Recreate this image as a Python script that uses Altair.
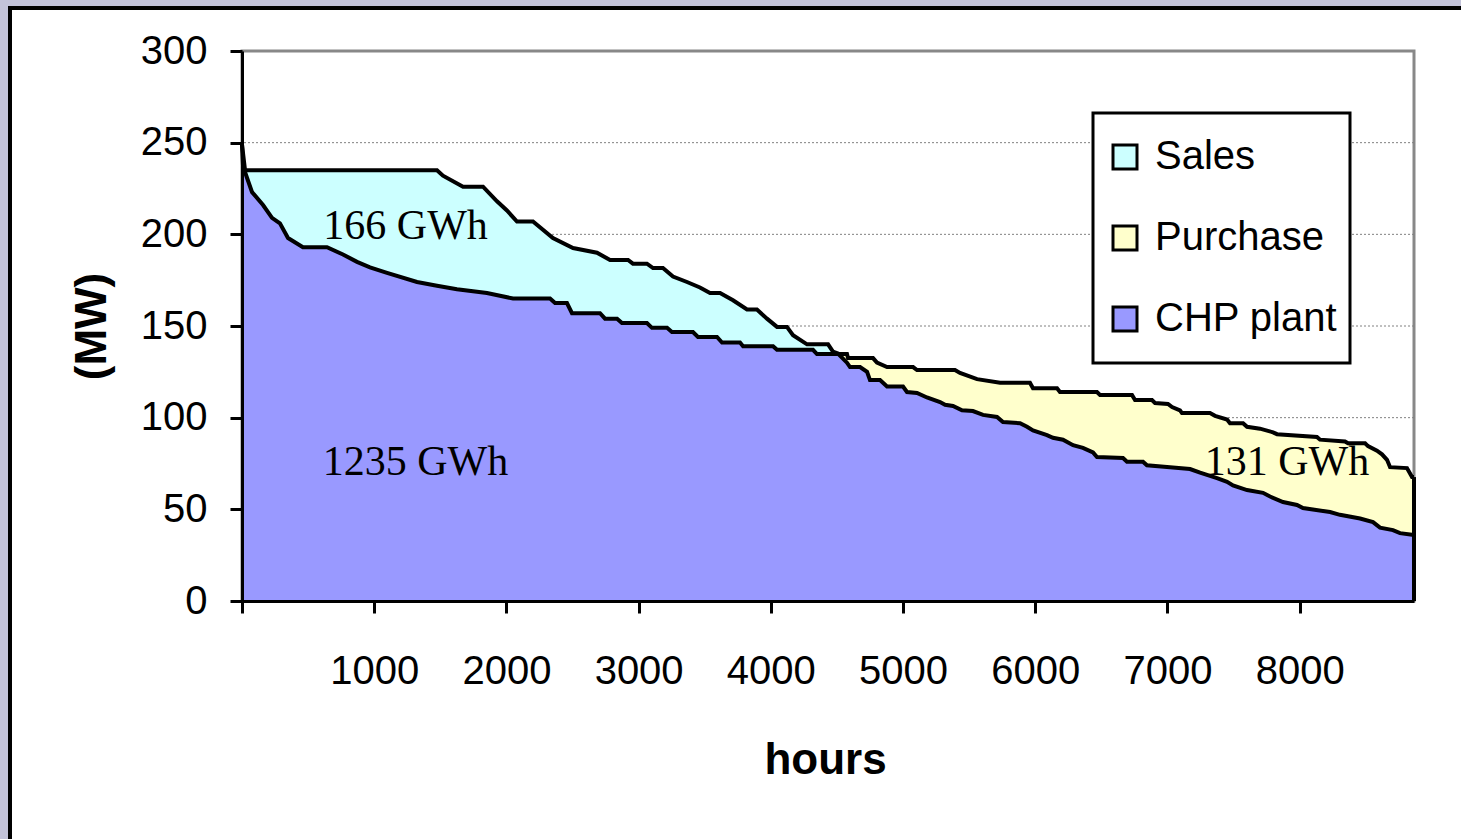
import altair as alt
import pandas as pd

# ---- data ----
chp_hours = [0, 23, 1475, 1520, 1672, 1823, 1929, 2004, 2080, 2201,
             2352, 2504, 2685, 2784, 2920, 2957, 3063, 3109, 3184, 3260,
             3366, 3464, 3540, 3616, 3714, 3820, 3895, 3971, 4047, 4122,
             4168, 4274, 4433, 4470, 4508, 4576, 4599, 4675, 4728, 4750,
             4826, 4879, 5000, 5030, 5106, 5181, 5280, 5318, 5378, 5446,
             5529, 5605, 5711, 5756, 5885, 5938, 5983, 6089, 6134, 6210,
             6286, 6361, 6437, 6467, 6664, 6694, 6815, 6845, 7019, 7171,
             7247, 7375, 7451, 7496, 7602, 7723, 7776, 7874, 7980, 8025,
             8230, 8305, 8457, 8555, 8608, 8706, 8759, 8865]
chp_mw = [249, 235, 235, 232, 226, 226, 218, 213, 207, 207,
          198, 192.5, 190, 186, 186, 184, 184, 181.6, 181.6, 177,
          174, 171, 168, 168, 164, 159, 159, 154, 149.5, 149.5,
          145, 140, 140, 136, 135, 130, 127.6, 127.6, 125, 120.5,
          120.5, 117, 117, 114, 113.5, 111, 108.5, 107, 106.4, 104,
          103.6, 101.5, 100.4, 97.6, 97, 95, 93, 90.5, 89, 88,
          85, 83.5, 81, 78.5, 78, 76, 76, 74, 73, 72,
          70, 67, 65, 63, 60.5, 59, 57, 54, 52.4, 50.7,
          48.5, 47, 45, 43, 40, 38.7, 37, 36]

demand_hours = [0, 8, 76, 159, 227, 287, 348, 461, 643, 764,
                870, 968, 1097, 1324, 1475, 1626, 1853, 2050, 2330, 2368,
                2458, 2496, 2708, 2746, 2837, 2874, 3063, 3101, 3215, 3252,
                3411, 3449, 3593, 3631, 3767, 3790, 4017, 4047, 4319, 4349,
                4576, 4584, 4773, 4803, 4879, 5076, 5106, 5393, 5431, 5560,
                5734, 5960, 5983, 6165, 6187, 6467, 6490, 6732, 6755, 6883,
                6906, 7004, 7035, 7095, 7110, 7322, 7360, 7451, 7473, 7572,
                7602, 7700, 7799, 7829, 8131, 8154, 8343, 8366, 8495, 8517,
                8585, 8623, 8661, 8684, 8812, 8850, 8865]
demand_mw = [249, 237, 223, 216, 209, 206, 198, 193, 193, 189,
             185, 182, 179, 174, 172, 170, 168, 165, 165, 162.5,
             162.5, 157, 157, 154, 154, 151.6, 151.6, 149, 149, 146.7,
             146.7, 144, 144, 141, 141, 139, 139, 137, 137, 134.7,
             134.7, 132.5, 132.5, 130, 127.6, 127.6, 126, 126, 124.4, 121,
             119, 119, 116, 116, 114, 114, 112.4, 112.4, 109.6, 109.6,
             108, 107.5, 105.8, 104, 102.5, 102.5, 101, 99, 97, 97,
             95, 94, 92, 91, 89.5, 88, 87, 86, 86, 84.5,
             82, 80, 77, 73, 72.5, 67.6, 67.6]

crossing_hour = 4508

series_names = ["Sales", "Purchase", "CHP plant"]
series_colors = ["#CCFFFF", "#FFFFCC", "#9999FF"]

x_ticks = [0, 1000, 2000, 3000, 4000, 5000, 6000, 7000, 8000]
y_ticks = [0, 50, 100, 150, 200, 250, 300]
grid_values = [50, 100, 150, 200, 250]

label_texts = ["166 GWh", "1235 GWh", "131 GWh"]
label_hours = [1237, 1312, 7904]
label_mw = [204.5, 75.8, 75.8]

X_MAX = 8865
FONT = "Liberation Sans"

# ---- tables ----
chp = pd.DataFrame({"hour": chp_hours, "mw": chp_mw})
dem = pd.DataFrame({"hour": demand_hours, "mw": demand_mw})
sales_df = chp.assign(series="Sales")
purchase_df = dem.assign(series="Purchase")
base_df = pd.concat([dem[dem.hour < crossing_hour],
                     chp[chp.hour >= crossing_hour]]).assign(series="CHP plant")
grid_df = pd.DataFrame({"g": grid_values})
label_df = pd.DataFrame({"t": label_texts, "hour": label_hours, "mw": label_mw})
end_df = pd.DataFrame({"hour": [demand_hours[-1]], "lo": [0], "hi": [demand_mw[-1]]})
one = pd.DataFrame({"a": [0]})

xaxis = alt.Axis(values=x_ticks, labelExpr="datum.value == 0 ? '' : datum.label",
                 format="d", grid=False, domainColor="black", domainWidth=3,
                 tickColor="black", tickWidth=3, tickSize=12,
                 labelFont=FONT, labelFontSize=40, labelColor="black",
                 labelPadding=38, labelFlush=False, labelOverlap=False,
                 title="hours", titleFont=FONT, titleFontSize=44,
                 titleFontWeight="bold", titleColor="black",
                 titleX=583, titleY=159, titleBaseline="middle", titleAlign="center",
                 zindex=1)
yaxis = alt.Axis(values=y_ticks, grid=False, domainColor="black", domainWidth=3,
                 tickColor="black", tickWidth=3, tickSize=12,
                 labelFont=FONT, labelFontSize=40, labelColor="black",
                 labelPadding=23, labelFlush=False, labelOverlap=False,
                 title="(MW)", titleFont=FONT, titleFontSize=44,
                 titleFontWeight="bold", titleColor="black",
                 titleX=-150, titleY=275, titleBaseline="middle", titleAlign="center",
                 titleAngle=270, zindex=1)

xs = alt.Scale(domain=[0, X_MAX], nice=False, zero=False)
ys = alt.Scale(domain=[0, 300], nice=False)

legend = alt.Legend(title=None, orient="none", legendX=851, legendY=62,
                    symbolType="square", symbolSize=576, symbolStrokeColor="black",
                    symbolStrokeWidth=3, symbolOpacity=1,
                    labelFont=FONT, labelFontSize=40, labelColor="black",
                    labelOffset=10, labelLimit=400, rowPadding=17, padding=12,
                    clipHeight=64,
                    strokeColor="black", fillColor="white")
color = alt.Color("series:N", scale=alt.Scale(domain=series_names, range=series_colors),
                  legend=legend)

# frame decoration (outside the plot area)
top_strip = alt.Chart(one).mark_rect(fill="#C3C3D9").encode(
    x=alt.value(-242), x2=alt.value(1219), y=alt.value(-51), y2=alt.value(-45))
left_strip = alt.Chart(one).mark_rect(fill="#C3C3D9").encode(
    x=alt.value(-242), x2=alt.value(-234), y=alt.value(-51), y2=alt.value(788))
border = alt.Chart(one).mark_rect(fillOpacity=0, stroke="black", strokeWidth=4).encode(
    x=alt.value(-232), x2=alt.value(1240), y=alt.value(-43), y2=alt.value(810))

grid = alt.Chart(grid_df).mark_rule(color="#808080", strokeWidth=1, strokeDash=[2, 2]).encode(
    y=alt.Y("g:Q", scale=ys, axis=yaxis))

def area(df):
    return alt.Chart(df).mark_area(interpolate="linear").encode(
        x=alt.X("hour:Q", scale=xs, axis=xaxis),
        y=alt.Y("mw:Q", scale=ys, axis=yaxis, stack=None),
        color=color)

purchase_area = area(purchase_df)
sales_area = area(sales_df)
base_area = area(base_df)

def line(df):
    return alt.Chart(df).mark_line(color="black", strokeWidth=4).encode(
        x=alt.X("hour:Q", scale=xs), y=alt.Y("mw:Q", scale=ys))

end_rule = alt.Chart(end_df).mark_rule(color="black", strokeWidth=4).encode(
    x=alt.X("hour:Q", scale=xs), y=alt.Y("lo:Q", scale=ys), y2="hi:Q")

texts = alt.Chart(label_df).mark_text(font="Liberation Serif", fontSize=42, color="black",
                                      align="center", baseline="middle").encode(
    x=alt.X("hour:Q", scale=xs), y=alt.Y("mw:Q", scale=ys), text="t:N")

chart = alt.layer(
    top_strip, left_strip, border, grid,
    purchase_area, sales_area, base_area,
    line(chp), line(dem), end_rule, texts
).properties(
    width=1172, height=550, background="white",
    padding={"left": 242, "top": 51, "right": 47, "bottom": 238},
    autosize=alt.AutoSizeParams(type="none"),
).configure_view(
    stroke="#888888", strokeWidth=3
).configure_legend(strokeWidth=3)

chart.save("out.html", embed_options={"renderer": "svg", "actions": False})
